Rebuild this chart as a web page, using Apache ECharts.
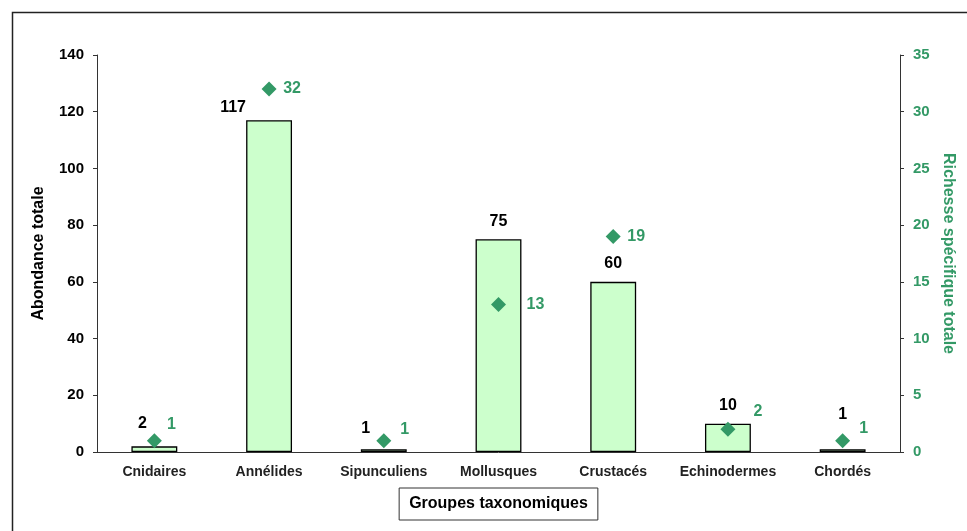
<!DOCTYPE html>
<html>
<head>
<meta charset="utf-8">
<script src="https://cdn.jsdelivr.net/npm/echarts@6/dist/echarts.min.js"></script>
<style>html,body{margin:0;padding:0;background:#fff;overflow:hidden}#c{width:967px;height:531px}</style>
</head>
<body>
<div id="c"></div>
<script>
const categories = ['Cnidaires', 'Annélides', 'Sipunculiens', 'Mollusques', 'Crustacés', 'Echinodermes', 'Chordés'];
const abondance = [2, 117, 1, 75, 60, 10, 1];
const richesse = [1, 32, 1, 13, 19, 2, 1];
const leftTicks = [0, 20, 40, 60, 80, 100, 120, 140];
const rightTicks = [0, 5, 10, 15, 20, 25, 30, 35];

const barLabelOffsets = [[-12, -5], [-36, 5], [-18, -3], [0, 0], [0, 0], [0, 0], [0, -17]];
const dotLabelOffsets = [[17, -16], [23, 0], [21, -11], [37, 0], [23, 0], [30, -18], [21, -12]];

const green = '#339966';
const font = '"Liberation Sans", Arial, sans-serif';
const chart = echarts.init(document.getElementById('c'), null, {renderer: 'canvas', width: 967, height: 531});

chart.setOption({
  animation: false,
  backgroundColor: '#fff',
  textStyle: {fontFamily: font},
  graphic: [{
    type: 'rect', left: 10, top: 10, shape: {width: 1000, height: 600},
    style: {fill: 'none', stroke: '#222', lineWidth: 1.5}, z: -1, silent: true
  }],
  grid: {left: 97, right: 67, top: 55, bottom: 79, containLabel: false, outerBoundsMode: 'none'},
  xAxis: {
    type: 'category',
    data: categories,
    name: 'Groupes taxonomiques',
    nameLocation: 'middle',
    nameGap: 36,
    nameTextStyle: {
      fontFamily: font, fontWeight: 'bold', fontSize: 16, color: '#000',
      borderColor: '#333', borderWidth: 1, padding: [8, 10, 8, 10]
    },
    axisLine: {lineStyle: {color: '#333', width: 1}},
    axisTick: {length: 5, lineStyle: {color: '#333'}},
    axisLabel: {fontFamily: font, fontWeight: 'bold', fontSize: 14, color: '#222', margin: 13, interval: 0}
  },
  yAxis: [{
    type: 'value', min: 0, max: 140, interval: 20,
    name: 'Abondance totale', nameLocation: 'middle', nameGap: 50, nameRotate: 90,
    nameTextStyle: {fontFamily: font, fontWeight: 'bold', fontSize: 16, color: '#000'},
    axisLine: {show: true, lineStyle: {color: '#333'}},
    axisTick: {show: true, length: 4, lineStyle: {color: '#333'}},
    splitLine: {show: false},
    axisLabel: {fontFamily: font, fontWeight: 'bold', fontSize: 15, color: '#000', margin: 13,
      formatter: v => leftTicks.includes(v) ? String(v) : ''}
  }, {
    type: 'value', min: 0, max: 35, interval: 5, position: 'right',
    name: 'Richesse spécifique totale', nameLocation: 'middle', nameGap: 40, nameRotate: -90,
    nameTextStyle: {fontFamily: font, fontWeight: 'bold', fontSize: 16, color: green},
    axisLine: {show: true, lineStyle: {color: '#333'}},
    axisTick: {show: true, length: 4, lineStyle: {color: '#333'}},
    splitLine: {show: false},
    axisLabel: {fontFamily: font, fontWeight: 'bold', fontSize: 15, color: green, margin: 13,
      formatter: v => rightTicks.includes(v) ? String(v) : ''}
  }],
  series: [{
    type: 'bar',
    yAxisIndex: 0,
    barWidth: '40%',
    data: abondance.map((v, i) => ({value: v, label: {offset: barLabelOffsets[i]}})),
    itemStyle: {color: '#CCFFCC', borderColor: '#000', borderWidth: 1.3},
    label: {show: true, position: 'top', distance: 10, fontFamily: font, fontWeight: 'bold', fontSize: 16, color: '#000'}
  }, {
    type: 'scatter',
    yAxisIndex: 1,
    symbol: 'diamond',
    symbolSize: 15,
    data: richesse.map((v, i) => ({value: v, label: {offset: dotLabelOffsets[i]}})),
    itemStyle: {color: green, opacity: 1},
    label: {show: true, position: 'inside', fontFamily: font, fontWeight: 'bold', fontSize: 16, color: green}
  }]
});
</script>
</body>
</html>
